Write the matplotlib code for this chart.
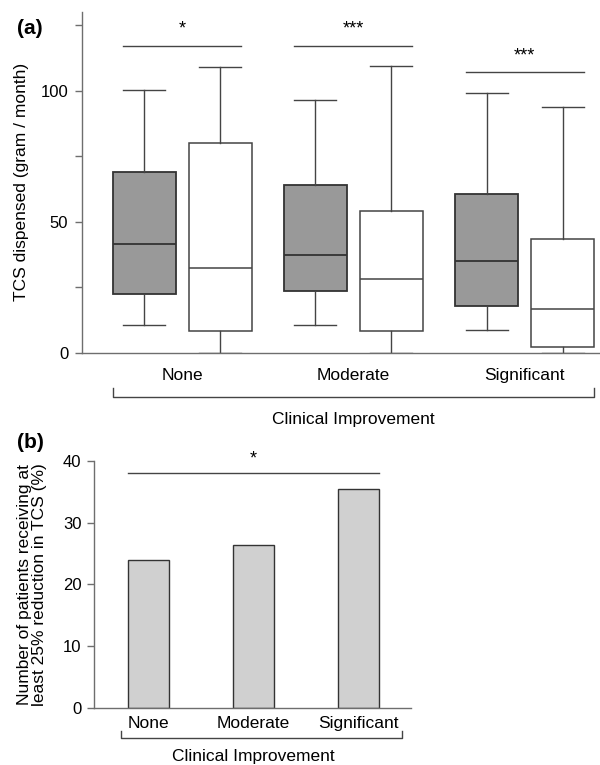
import matplotlib
matplotlib.use("Agg")
import matplotlib.pyplot as plt

plt.rcParams["font.family"] = ["Liberation Sans", "DejaVu Sans"]
plt.rcParams["font.size"] = 12

# Data
categories = ["None", "Moderate", "Significant"]

# (a) box statistics, grey boxes (before) and white boxes (after)
grey_whislo = [10.5, 10.7, 8.5]
grey_q1 = [22.4, 23.7, 18.0]
grey_med = [41.3, 37.4, 34.9]
grey_q3 = [69.0, 63.9, 60.6]
grey_whishi = [100.3, 96.4, 99.3]

white_whislo = [0.0, 0.0, 0.0]
white_q1 = [8.2, 8.3, 2.2]
white_med = [32.4, 28.0, 16.7]
white_q3 = [79.9, 54.0, 43.3]
white_whishi = [109.2, 109.3, 93.7]

sig_a = ["*", "***", "***"]
sig_a_line = [117.1, 117.1, 107.0]

# (b) bar values
pct_reduced = [24.0, 26.3, 35.5]
sig_b = "*"
sig_b_line = 38.0

edge = "#333333"
spine_col = "#6e6e6e"

fig = plt.figure(figsize=(6, 7.65), dpi=100)

# ---------------- panel (a) ----------------
ax1 = fig.add_axes([0.1367, 0.539, 0.8633, 0.4452])
off = 0.222
bw = 0.368
cw = 0.245

def stats(lo, q1, med, q3, hi):
    return [dict(whislo=a, q1=b, med=c, q3=d, whishi=e, fliers=[])
            for a, b, c, d, e in zip(lo, q1, med, q3, hi)]

pos_grey = [i - off for i in range(len(categories))]
pos_white = [i + off for i in range(len(categories))]

ax1.bxp(stats(grey_whislo, grey_q1, grey_med, grey_q3, grey_whishi),
        positions=pos_grey, widths=bw, capwidths=cw, patch_artist=True,
        showfliers=False,
        boxprops=dict(facecolor="#999999", edgecolor=edge, linewidth=1.3),
        medianprops=dict(color=edge, linewidth=1.3),
        whiskerprops=dict(color="#444444", linewidth=1.0),
        capprops=dict(color="#444444", linewidth=1.0))
ax1.bxp(stats(white_whislo, white_q1, white_med, white_q3, white_whishi),
        positions=pos_white, widths=bw, capwidths=cw, patch_artist=True,
        showfliers=False,
        boxprops=dict(facecolor="white", edgecolor="#444444", linewidth=1.1),
        medianprops=dict(color="#444444", linewidth=1.1),
        whiskerprops=dict(color="#444444", linewidth=1.0),
        capprops=dict(color="#444444", linewidth=1.0))

ax1.set_xlim(-0.584, 2.44)
ax1.set_ylim(0, 130)
ax1.set_yticks([0, 50, 100])
ax1.set_yticks([25, 75, 125], minor=True)
ax1.set_xticks(range(len(categories)))
ax1.set_xticklabels(categories, fontsize=12.5)
ax1.tick_params(axis="x", length=0, pad=11)
ax1.tick_params(axis="y", which="both", direction="out", length=5,
                width=1, color=spine_col, pad=5)
for s in ["top", "right"]:
    ax1.spines[s].set_visible(False)
for s in ["left", "bottom"]:
    ax1.spines[s].set_color(spine_col)
    ax1.spines[s].set_linewidth(1.0)

for i, (txt, yl) in enumerate(zip(sig_a, sig_a_line)):
    x0 = i - off - cw / 2
    x1 = i + off + cw / 2
    ax1.plot([x0, x1], [yl, yl], color="#444444", lw=1.0, clip_on=False)
    ax1.text(i, yl + 6.3, txt, ha="center", va="center", fontsize=13)

ax1.set_ylabel("TCS dispensed (gram / month)", fontsize=12.5)
ax1.yaxis.set_label_coords(-0.102, 0.5)

tr1 = ax1.get_xaxis_transform()
bl, br = -off - bw / 2, 2 + off + bw / 2
ax1.plot([bl, bl, br, br], [-0.104, -0.129, -0.129, -0.104], color="#444444",
         lw=1.0, transform=tr1, clip_on=False)
ax1.text(1, -0.195, "Clinical Improvement", transform=tr1, ha="center",
         va="center", fontsize=12.5)
fig.text(0.028, 0.963, "(a)", fontsize=15, fontweight="bold", ha="left",
         va="center")

# ---------------- panel (b) ----------------
ax2 = fig.add_axes([0.1567, 0.0749, 0.5278, 0.3225])
xb = list(range(len(categories)))
bar_w = 0.39
ax2.bar(xb, pct_reduced, width=bar_w, color="#d0d0d0", edgecolor=edge,
        linewidth=1.0)
ax2.set_xlim(-0.515, 2.5)
ax2.set_ylim(0, 40)
ax2.set_yticks([0, 10, 20, 30, 40])
ax2.set_xticks(xb)
ax2.set_xticklabels(categories, fontsize=12.5)
ax2.tick_params(axis="x", length=0, pad=6)
ax2.tick_params(axis="y", direction="out", length=5, width=1,
                color=spine_col, pad=4)
for s in ["top", "right"]:
    ax2.spines[s].set_visible(False)
for s in ["left", "bottom"]:
    ax2.spines[s].set_color(spine_col)
    ax2.spines[s].set_linewidth(1.0)

ax2.plot([-bar_w / 2, 2 + bar_w / 2], [sig_b_line, sig_b_line],
         color="#444444", lw=1.0, clip_on=False)
ax2.text(1, sig_b_line + 2.4, sig_b, ha="center", va="center", fontsize=13)

ax2.set_ylabel("Number of patients receiving at\nleast 25% reduction in TCS (%)",
               linespacing=1.0, fontsize=12.5)
ax2.yaxis.set_label_coords(-0.148, 0.5)

tr2 = ax2.get_xaxis_transform()
ax2.plot([-0.26, -0.26, 2.42, 2.42], [-0.093, -0.124, -0.124, -0.093],
         color="#444444", lw=1.0, transform=tr2, clip_on=False)
ax2.text(1, -0.199, "Clinical Improvement", transform=tr2, ha="center",
         va="center", fontsize=12.5)
fig.text(0.028, 0.421, "(b)", fontsize=15, fontweight="bold", ha="left",
         va="center")

fig.savefig("out.png", dpi=100)
